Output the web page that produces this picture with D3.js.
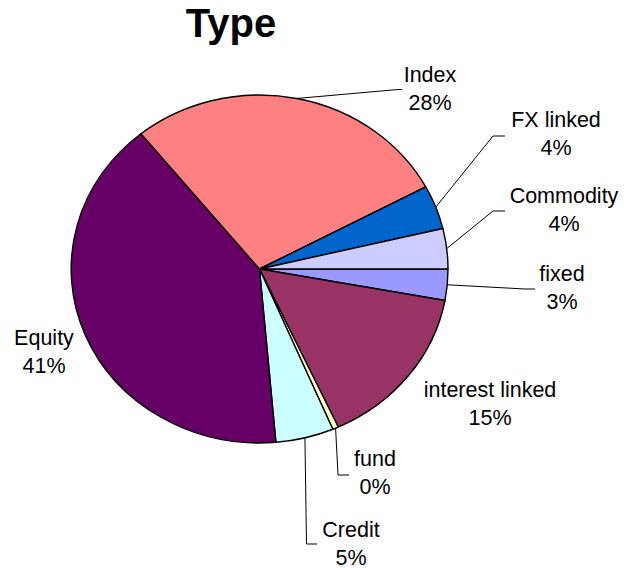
<!DOCTYPE html>
<html>
<head>
<meta charset="utf-8">
<script src="https://cdn.jsdelivr.net/npm/d3@7"></script>
<style>
  html, body { margin: 0; padding: 0; background: #fff; }
  svg { display: block; }
  text { font-family: "Liberation Sans", Arial, sans-serif; fill: #000; }
</style>
</head>
<body>
<svg id="chart" width="628" height="568"></svg>
<script>
// Share of products by type, listed clockwise starting at 3 o'clock
const categories = ["fixed", "interest linked", "fund", "Credit", "Equity", "Index", "FX linked", "Commodity"];
const shares     = [2.9, 15.3, 0.5, 5.0, 40.7, 28.1, 4.1, 3.75];
const colors     = ["#9999FF", "#993366", "#FFFFCC", "#CCFFFF", "#660066", "#FF8080", "#0066CC", "#CCCCFF"];

// Label placement: text centre, first baseline, optional leader elbow and end
const labelLayout = {
  "Index":           { x: 430, y: 82,  elbow: [398, 89.5], end: 402 },
  "FX linked":       { x: 556, y: 127, elbow: [493, 136],  end: 505 },
  "Commodity":       { x: 564, y: 203, elbow: [493, 211],  end: 505 },
  "fixed":           { x: 562, y: 281, elbow: [525, 289],  end: 535 },
  "interest linked": { x: 490, y: 397 },
  "fund":            { x: 375, y: 466, elbow: [338, 475],  end: 349 },
  "Credit":          { x: 351, y: 537, elbow: [306.5, 544], end: 317 },
  "Equity":          { x: 44,  y: 345 }
};

const svg = d3.select("#chart");
const cx = 259.5, cy = 269, rx = 188.5, ry = 174;
const lineGap = 27.5;

svg.append("text")
  .attr("x", 231).attr("y", 37)
  .attr("text-anchor", "middle")
  .style("font-size", "40px").style("font-weight", "bold")
  .text("Type");

const data = categories.map((c, i) => ({ name: c, value: shares[i], color: colors[i] }));
const total = d3.sum(data, d => d.value);

const pie = d3.pie().sort(null).value(d => d.value)
  .startAngle(Math.PI / 2).endAngle(Math.PI / 2 + 2 * Math.PI);
const arcs = pie(data);

// Unit-radius arcs, stretched into the ellipse by the group transform
const arc = d3.arc().innerRadius(0).outerRadius(1);
const pieG = svg.append("g")
  .attr("transform", `translate(${cx},${cy}) scale(${rx},${ry})`);

pieG.selectAll("path.slice")
  .data(arcs)
  .join("path")
  .attr("class", "slice")
  .attr("d", arc)
  .attr("fill", d => d.data.color)
  .attr("stroke", "#000")
  .attr("stroke-width", 1.4)
  .attr("stroke-linejoin", "round")
  .attr("vector-effect", "non-scaling-stroke");

// Point on the ellipse rim at a pie angle (0 = 12 o'clock, clockwise)
const rim = a => [cx + rx * Math.sin(a), cy - ry * Math.cos(a)];

const labelsG = svg.append("g");
arcs.forEach(d => {
  const L = labelLayout[d.data.name];
  if (L.elbow) {
    const start = rim((d.startAngle + d.endAngle) / 2);
    labelsG.append("polyline")
      .attr("points", [start, L.elbow, [L.end, L.elbow[1]]].map(p => p.join(",")).join(" "))
      .attr("fill", "none")
      .attr("stroke", "#000")
      .attr("stroke-width", 1);
  }
  const pct = Math.round(d.data.value / total * 100) + "%";
  const t = labelsG.append("text")
    .attr("text-anchor", "middle")
    .style("font-size", "21.5px");
  t.append("tspan").attr("x", L.x).attr("y", L.y).text(d.data.name);
  t.append("tspan").attr("x", L.x).attr("y", L.y + lineGap).text(pct);
});
</script>
</body>
</html>
